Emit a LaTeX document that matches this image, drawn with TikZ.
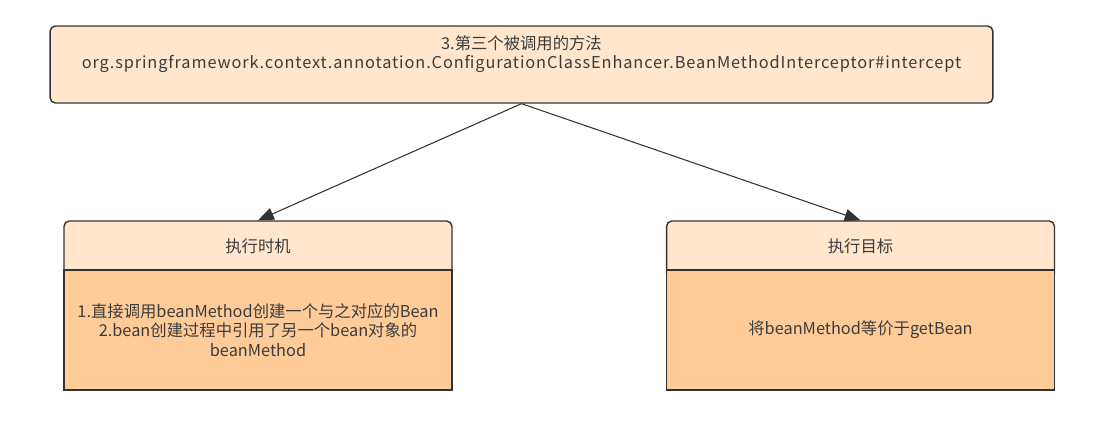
\documentclass[tikz,border=0pt]{standalone}
\usepackage{fontspec}
\setmainfont{Noto Sans CJK SC}
\newfontfamily\widefont[LetterSpace=5.5]{Noto Sans CJK SC}
\usetikzlibrary{positioning,arrows.meta}
\definecolor{peachlight}{HTML}{FFE6CC}
\definecolor{peachdark}{HTML}{FFCC99}
\definecolor{linegray}{HTML}{333333}
\definecolor{textgray}{HTML}{3C3C3C}

\begin{document}
\begin{tikzpicture}[x=0.02cm, y=-0.02cm,
        BoxStyle/.style = { rectangle, draw = linegray, line width = 0.8pt,
          fill = peachlight, inner sep = 0pt },
        HeadStyle/.style = { BoxStyle, rounded corners = 3pt,
          minimum width = 7.76cm, minimum height = 1.16cm },
        BodyStyle/.style = { BoxStyle, fill = peachdark,
          minimum width = 7.76cm, minimum height = 2.4cm },
        TextStyle/.style = { align = center, text = textgray,
          font = \fontsize{9.3}{11}\selectfont },
        EdgeStyle/.style = { draw = linegray, line width = 0.6pt,
          -{Triangle[length=9pt, width=7pt]} }
      ]
      \useasboundingbox (0,0) rectangle (1101,421);
      % top method box
      \node[BoxStyle, rounded corners = 3pt, minimum width = 18.86cm,
        minimum height = 1.54cm] (method) at (521.5,64.5) {};
      \node[TextStyle] (methodtxt) at (521.5,54)
        {3.第三个被调用的方法\\
         {\widefont org.springframework.context.annotation.ConfigurationClassEnhancer.BeanMethodInterceptor\#intercept}};
      % left: timing
      \node[HeadStyle] (timehead) at (258,250) {};
      \node[BodyStyle] (timebody) at (258,330) {};
      \node[TextStyle] (timetitle) at (258,246) {执行时机};
      \node[TextStyle] (timetxt) at (timebody)
        {1.直接调用beanMethod创建一个与之对应的Bean\\
         2.bean创建过程中引用了另一个bean对象的\\
         beanMethod};
      % right: target
      \node[HeadStyle] (goalhead) at (860.5,250) {};
      \node[BodyStyle] (goalbody) at (860.5,330) {};
      \node[TextStyle] (goaltitle) at (860.5,246) {执行目标};
      \node[TextStyle] (goaltxt) at (goalbody) {将beanMethod等价于getBean};
      % arrows
      \draw[EdgeStyle] (method.south) -- (timehead.north);
      \draw[EdgeStyle] (method.south) -- (goalhead.north);
    \end{tikzpicture}
\end{document}
